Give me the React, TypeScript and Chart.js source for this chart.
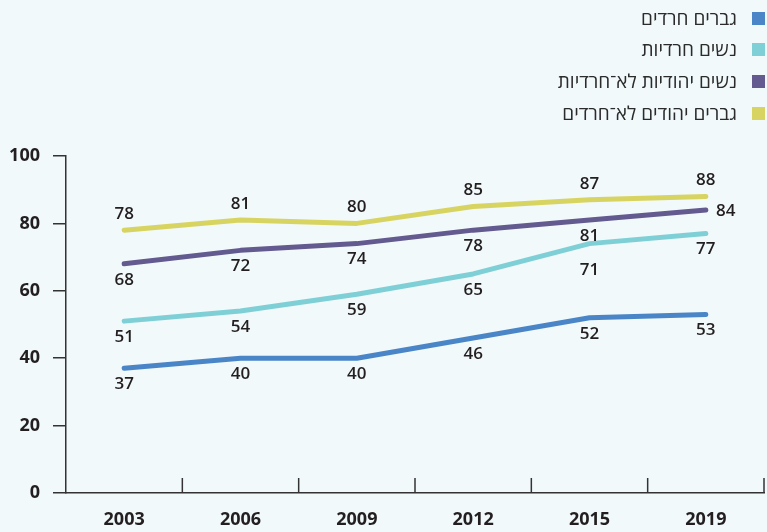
import React, { useEffect, useRef } from "react";
import { Chart, registerables } from "chart.js";

Chart.register(...registerables);

const years = ["2003", "2006", "2009", "2012", "2015", "2019"];
const seriesNames = ["גברים חרדים", "נשים חרדיות", "נשים יהודיות לא־חרדיות", "גברים יהודים לא־חרדים"];
const seriesColors = ["#4a86c7", "#7fd0d6", "#635a90", "#d8d462"];

// values as drawn
const haredMen = [37, 40, 40, 46, 52, 53];
const haredWomen = [51, 54, 59, 65, 74, 77];
const nonHaredWomen = [68, 72, 74, 78, 81, 84];
const nonHaredMen = [78, 81, 80, 85, 87, 88];

// printed value labels
const haredMenLabels = [37, 40, 40, 46, 52, 53];
const haredWomenLabels = [51, 54, 59, 65, 71, 77];
const nonHaredWomenLabels = [68, 72, 74, 78, 81, 84];
const nonHaredMenLabels = [78, 81, 80, 85, 87, 88];

const yTicks = [0, 20, 40, 60, 80, 100];

const FONT = "'Open Sans', 'DejaVu Sans', sans-serif";
const TEXT = "#231f20";

export default function App() {
  const ref = useRef<HTMLCanvasElement | null>(null);

  useEffect(() => {
    const values = [haredMen, haredWomen, nonHaredWomen, nonHaredMen];
    const labelVals = [haredMenLabels, haredWomenLabels, nonHaredWomenLabels, nonHaredMenLabels];
    const placement = [
      { dx: 0, dy: 16 },
      { dx: 0, dy: 16 },
      { dx: 0, dy: 16 },
      { dx: 0, dy: -16 },
    ];

    const labelPlugin = {
      id: "valueLabels",
      afterDatasetsDraw(chart: any) {
        const ctx = chart.ctx;
        const ys = chart.scales.y;
        ctx.save();
        ctx.font = `600 17px ${FONT}`;
        ctx.fillStyle = TEXT;
        ctx.textAlign = "center";
        ctx.textBaseline = "middle";
        chart.data.datasets.forEach((ds: any, di: number) => {
          const meta = chart.getDatasetMeta(di);
          meta.data.forEach((pt: any, i: number) => {
            const lv = labelVals[di][i];
            let dx = placement[di].dx;
            let dy = placement[di].dy;
            if (di === 2 && i === meta.data.length - 1) {
              dx = 20;
              dy = 1;
            }
            ctx.fillText(String(lv), pt.x + dx, ys.getPixelForValue(lv) + dy);
          });
        });
        ctx.restore();
      },
    };

    const xTickPlugin = {
      id: "xTicks",
      afterDraw(chart: any) {
        const xs = chart.scales.x;
        const ctx = chart.ctx;
        const n = chart.data.labels.length;
        ctx.save();
        ctx.strokeStyle = "#333";
        ctx.lineWidth = 1.5;
        for (let i = 1; i <= n; i++) {
          const x = xs.left + (i * xs.width) / n;
          ctx.beginPath();
          ctx.moveTo(x, xs.top - 15);
          ctx.lineTo(x, xs.top);
          ctx.stroke();
        }
        ctx.restore();
      },
    };

    const chart = new Chart(ref.current as HTMLCanvasElement, {
      type: "line",
      data: {
        labels: years,
        datasets: values.map((v, i) => ({
          label: seriesNames[i],
          data: v,
          borderColor: seriesColors[i],
          backgroundColor: seriesColors[i],
          borderWidth: 5,
          borderCapStyle: "round",
          borderJoinStyle: "round",
          pointRadius: 0,
          tension: 0,
        })),
      },
      options: {
        animation: false,
        responsive: false,
        devicePixelRatio: 1,
        layout: { padding: { top: 156, right: 3, left: 0, bottom: 0 } },
        plugins: { legend: { display: false }, tooltip: { enabled: false } },
        scales: {
          x: {
            offset: true,
            grid: { display: false, drawTicks: false },
            border: { display: true, color: "#333", width: 1.5 },
            ticks: { color: TEXT, font: { family: FONT, size: 18, weight: "700" }, padding: 16, maxRotation: 0 },
            afterFit: (s: any) => {
              s.height = 39;
            },
          },
          y: {
            min: 0,
            max: 100,
            afterBuildTicks: (s: any) => {
              s.ticks = yTicks.map((v) => ({ value: v }));
            },
            grid: { drawOnChartArea: false, tickLength: 13, color: "#333", lineWidth: 1.5 },
            border: { display: true, color: "#333", width: 1.5 },
            ticks: { color: TEXT, font: { family: FONT, size: 18, weight: "700" }, padding: 13 },
            afterFit: (s: any) => {
              s.width = 66;
            },
          },
        },
      },
      plugins: [labelPlugin, xTickPlugin],
    } as any);
    return () => chart.destroy();
  }, []);

  const rowCenters = [18, 49, 81, 113];

  return (
    <div style={{ position: "fixed", left: 0, top: 0, width: 767, height: 532, background: "#f1f9fb", overflow: "hidden" }}>
      <canvas ref={ref} width={767} height={532} style={{ position: "absolute", left: 0, top: 0, width: 767, height: 532 }} />
      {seriesNames.map((name, i) => (
        <div
          key={name}
          style={{
            position: "absolute",
            right: 2,
            top: rowCenters[i] - 13,
            height: 26,
            display: "flex",
            alignItems: "center",
            direction: "rtl",
            fontFamily: FONT,
            fontSize: 19,
            fontWeight: 500,
            color: "#2b2b2b",
            whiteSpace: "nowrap",
          }}
        >
          <span style={{ width: 13, height: 13, background: seriesColors[i], display: "inline-block", marginLeft: 15, flexShrink: 0 }} />
          <span>{name}</span>
        </div>
      ))}
    </div>
  );
}
